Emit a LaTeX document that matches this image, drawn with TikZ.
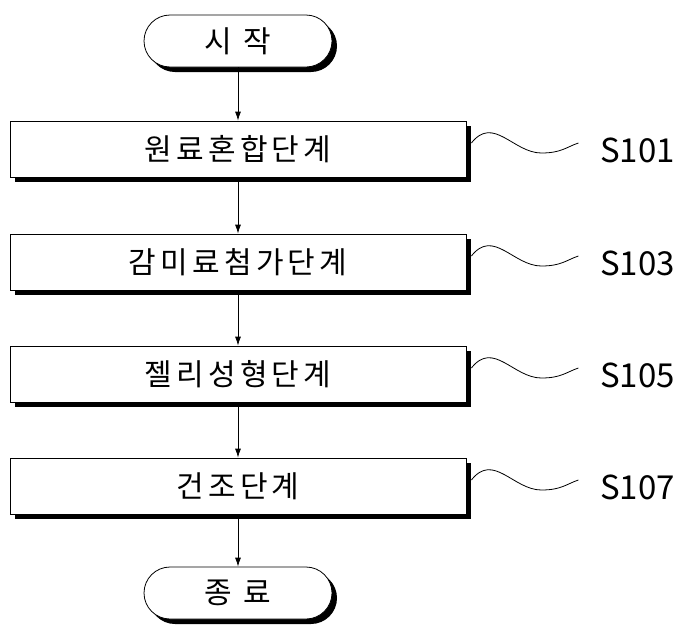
\documentclass[tikz,border=0pt]{standalone}
\usepackage{fontspec}
\setmainfont{Noto Sans CJK KR}[LetterSpace=14]
\newfontfamily\labelfont{Noto Sans CJK KR}
\usetikzlibrary{shadows,arrows.meta}
\tikzset{
  box/.style={draw, thick, fill=white, minimum width=456pt, minimum height=56pt,
    font=\fontsize{30}{32}\selectfont,
    drop shadow={shadow xshift=5pt, shadow yshift=-5pt, fill=black, opacity=1}},
  term/.style={box, minimum width=188pt, minimum height=52pt, rounded corners=26pt},
  steplabel/.style={font=\labelfont\fontsize{33}{36}\selectfont, anchor=west, inner sep=0pt},
  flow/.style={thick, -{Latex[length=9pt,width=6pt]}}
}
\begin{document}
\begin{tikzpicture}[x=1pt, y=-1pt]
\useasboundingbox (0,0) rectangle (693,635);

\node[term] (start) at (238,41) {시 작};
\node[box] (b1) at (238,149) {원료혼합단계};
\node[box] (b2) at (238,262) {감미료첨가단계};
\node[box] (b3) at (238,374) {젤리성형단계};
\node[box] (b4) at (238,486) {건조단계};
\node[term] (end) at (238,593) {종 료};

\node[steplabel] (s1) at (600,150) {S101};
\node[steplabel] (s2) at (600,263) {S103};
\node[steplabel] (s3) at (600,375) {S105};
\node[steplabel] (s4) at (600,487) {S107};

\draw[flow] (start) -- (b1);
\draw[flow] (b1) -- (b2);
\draw[flow] (b2) -- (b3);
\draw[flow] (b3) -- (b4);
\draw[flow] (b4) -- (end);

\foreach \i in {1,...,4}
  \draw[thick] ([xshift=5pt,yshift=6pt]b\i.east) .. controls +(22,-28) and +(-28,0) .. ++(70,10)
    .. controls +(20,0) and +(-12,4) .. ++(37,-10);

\end{tikzpicture}
\end{document}
